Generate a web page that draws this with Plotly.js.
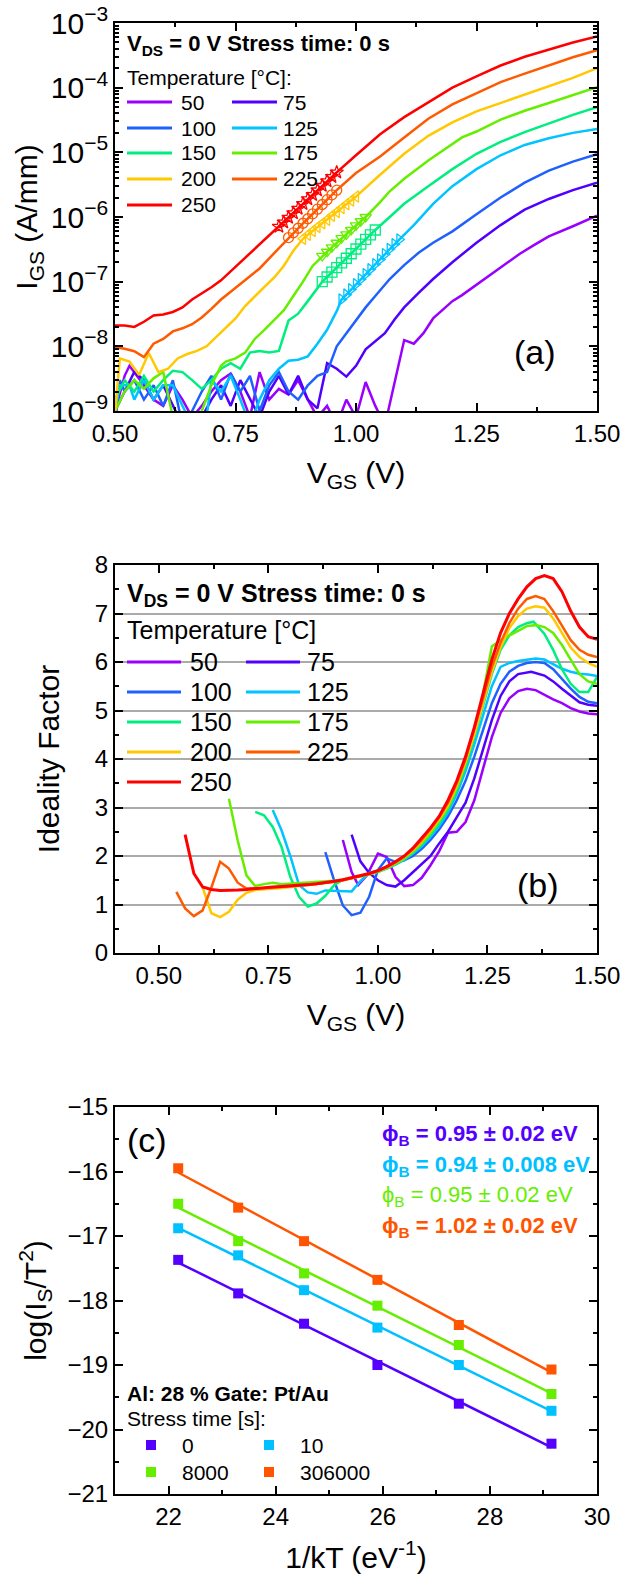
<!DOCTYPE html>
<html><head><meta charset="utf-8">
<script src="https://cdn.plot.ly/plotly-3.0.1.min.js"></script>
<style>html,body{margin:0;padding:0;background:#fff}#chart{width:638px;height:1583px}</style>
</head><body><div id="chart"></div>
<script>
// ---------- shared categories ----------
const temps = ['50','75','100','125','150','175','200','225','250'];
const tempColors = ['#9900FF','#5000FF','#1F60FF','#00C3FF','#00EE80','#66EE00','#FFC800','#FF5A00','#FF0000'];

// ---------- panel (a): I_GS vs V_GS ----------
const vA50 = [0.50,0.52,0.53,0.54,0.56,0.58,0.60,0.62,0.64,0.66,0.68,0.70,0.72,0.74,0.76,0.78,0.80,0.82,0.84,0.86,0.88,0.90,0.92,0.94,0.96,0.98,1.00,1.02,1.04,1.06,1.10,1.12,1.14,1.16,1.18,1.20,1.22,1.25,1.28,1.31,1.34,1.37,1.40,1.45,1.50];
const iA50 = [1.0e-9,3.5e-9,5.0e-9,4.0e-9,2.5e-9,1.5e-9,1.2e-9,2.5e-9,1.5e-9,8e-10,1.2e-9,2.0e-9,3.0e-9,3.8e-9,2.0e-9,8e-10,4.0e-9,1.5e-9,2.2e-9,1.8e-9,3.0e-9,1.5e-9,8e-10,1.2e-9,6e-10,1.5e-9,8e-10,2.8e-9,1.2e-9,6e-10,1.25e-8,1.1e-8,1.6e-8,2.7e-8,3.7e-8,5.0e-8,6.2e-8,9.0e-8,1.3e-7,1.9e-7,2.7e-7,3.7e-7,5.0e-7,7.2e-7,1.05e-6];

const vA75 = [0.50,0.52,0.54,0.56,0.58,0.60,0.62,0.64,0.68,0.70,0.72,0.74,0.76,0.78,0.80,0.82,0.84,0.86,0.88,0.90,0.92,0.94,0.96,0.98,1.00,1.02,1.04,1.06,1.08,1.10,1.13,1.16,1.20,1.25,1.30,1.35,1.40,1.45,1.50];
const iA75 = [1.0e-9,2.0e-9,4.0e-9,3.0e-9,1.5e-9,2.5e-9,1.2e-9,6e-10,8e-10,1.5e-9,2.5e-9,1.2e-9,3.0e-9,1.5e-9,8e-10,2.0e-9,3.5e-9,1.8e-9,3.5e-9,1.5e-9,1.1e-9,5.5e-9,4.5e-9,3.4e-9,5.0e-9,9.0e-9,1.2e-8,1.6e-8,2.6e-8,4.0e-8,6.7e-8,1.1e-7,2.0e-7,4.0e-7,7.5e-7,1.3e-6,1.9e-6,2.6e-6,3.4e-6];

const vA100 = [0.50,0.51,0.52,0.54,0.56,0.58,0.60,0.62,0.64,0.66,0.68,0.70,0.72,0.74,0.76,0.78,0.80,0.82,0.84,0.86,0.88,0.90,0.92,0.94,0.96,0.98,1.00,1.02,1.04,1.07,1.10,1.13,1.16,1.20,1.25,1.30,1.35,1.40,1.45,1.50];
const iA100 = [6e-10,3.0e-9,2.0e-9,3.0e-9,1.5e-9,2.5e-9,1.2e-9,3.0e-9,6e-10,1.0e-9,2.0e-9,3.5e-9,1.5e-9,3.8e-9,2.0e-9,3.5e-9,1.0e-9,2.5e-9,4.0e-9,2.0e-9,1.5e-9,2.5e-9,3.5e-9,4.0e-9,1.0e-8,1.6e-8,2.6e-8,4.0e-8,6.0e-8,1.1e-7,1.8e-7,2.8e-7,4.0e-7,6.0e-7,1.1e-6,2.0e-6,3.4e-6,5.2e-6,7.2e-6,9.4e-6];

const vA125 = [0.50,0.51,0.53,0.54,0.56,0.58,0.60,0.62,0.64,0.66,0.69,0.70,0.72,0.74,0.76,0.78,0.80,0.82,0.84,0.86,0.88,0.90,0.92,0.94,0.96,0.97,0.98,0.99,1.00,1.01,1.02,1.03,1.04,1.05,1.06,1.07,1.08,1.09,1.12,1.16,1.20,1.25,1.30,1.35,1.40,1.45,1.50];
const iA125 = [1.0e-9,2.5e-9,2.5e-9,1.5e-9,3.0e-9,1.5e-9,2.5e-9,2.5e-9,1.2e-9,6e-10,8e-10,3.0e-9,2.0e-9,3.5e-9,1.5e-9,6e-10,1.5e-9,3.0e-9,4.5e-9,6.0e-9,6.2e-9,7.0e-9,1.1e-8,1.8e-8,3.5e-8,5.3e-8,6.3e-8,7.6e-8,9.1e-8,1.09e-7,1.3e-7,1.55e-7,1.86e-7,2.2e-7,2.65e-7,3.2e-7,3.8e-7,4.5e-7,7.5e-7,1.6e-6,3.0e-6,5.5e-6,9.0e-6,1.3e-5,1.65e-5,2.0e-5,2.3e-5];

const vA150 = [0.50,0.52,0.54,0.56,0.58,0.60,0.62,0.64,0.66,0.68,0.70,0.72,0.74,0.76,0.78,0.80,0.82,0.84,0.86,0.88,0.90,0.92,0.93,0.94,0.95,0.96,0.97,0.98,0.99,1.00,1.01,1.02,1.03,1.04,1.07,1.10,1.15,1.20,1.25,1.30,1.35,1.40,1.45,1.50];
const iA150 = [1.5e-9,3.0e-9,2.0e-9,3.5e-9,2.0e-9,3.0e-9,4.2e-9,4.0e-9,3.0e-9,2.2e-9,3.0e-9,4.5e-9,5.5e-9,4.5e-9,8.0e-9,8.5e-9,8.0e-9,8.5e-9,2.5e-8,3.2e-8,5.0e-8,8.0e-8,1.0e-7,1.18e-7,1.4e-7,1.65e-7,1.95e-7,2.3e-7,2.7e-7,3.2e-7,3.8e-7,4.5e-7,5.3e-7,6.3e-7,1.0e-6,1.6e-6,3.0e-6,5.5e-6,9.5e-6,1.45e-5,2.05e-5,2.8e-5,3.8e-5,5.0e-5];

const vA175 = [0.50,0.52,0.54,0.56,0.58,0.60,0.62,0.64,0.66,0.68,0.70,0.72,0.73,0.75,0.77,0.79,0.81,0.83,0.85,0.87,0.89,0.91,0.93,0.94,0.95,0.96,0.97,0.98,0.99,1.00,1.01,1.02,1.05,1.07,1.10,1.15,1.22,1.25,1.30,1.35,1.40,1.45,1.50];
const iA175 = [1.0e-9,2.0e-9,3.0e-9,2.2e-9,3.2e-9,4.0e-9,8e-10,5e-10,5e-10,1.0e-9,2.5e-9,5.0e-9,5.8e-9,6.5e-9,8.0e-9,1.3e-8,1.8e-8,2.5e-8,3.6e-8,6.0e-8,1.0e-7,1.75e-7,2.5e-7,2.9e-7,3.4e-7,4.0e-7,4.7e-7,5.4e-7,6.3e-7,7.4e-7,8.6e-7,1.0e-6,1.7e-6,2.5e-6,3.9e-6,7.5e-6,1.7e-5,2.1e-5,3.2e-5,4.4e-5,5.8e-5,7.8e-5,1.02e-4];

const vA200 = [0.50,0.51,0.53,0.55,0.57,0.59,0.61,0.63,0.65,0.67,0.69,0.71,0.73,0.75,0.77,0.79,0.81,0.83,0.85,0.87,0.89,0.90,0.91,0.92,0.93,0.94,0.95,0.96,0.97,0.98,0.99,1.00,1.05,1.10,1.15,1.20,1.25,1.30,1.35,1.40,1.45,1.50];
const iA200 = [9e-10,6.5e-9,5.8e-9,3.6e-9,7.9e-9,4.0e-9,4.5e-9,6.5e-9,7.6e-9,8.5e-9,1.0e-8,1.4e-8,2.0e-8,2.7e-8,4.2e-8,5.8e-8,8.3e-8,1.15e-7,1.75e-7,3.0e-7,4.6e-7,5.3e-7,6.1e-7,7.0e-7,8.0e-7,9.1e-7,1.05e-6,1.2e-6,1.38e-6,1.58e-6,1.8e-6,2.07e-6,4.5e-6,9.5e-6,1.8e-5,2.9e-5,4.3e-5,5.8e-5,7.7e-5,1.03e-4,1.42e-4,2.0e-4];

const vA225 = [0.50,0.52,0.54,0.56,0.58,0.60,0.62,0.64,0.66,0.68,0.70,0.72,0.74,0.76,0.78,0.80,0.82,0.84,0.86,0.87,0.88,0.89,0.90,0.91,0.92,0.93,0.94,0.95,0.96,1.00,1.05,1.10,1.15,1.20,1.25,1.30,1.35,1.40,1.45,1.50];
const iA225 = [9.7e-9,9.2e-9,8.4e-9,6.8e-9,1.1e-8,1.3e-8,1.7e-8,1.9e-8,2.2e-8,2.8e-8,3.8e-8,5.3e-8,7.0e-8,9.2e-8,1.25e-7,1.6e-7,2.3e-7,3.3e-7,4.8e-7,5.7e-7,6.7e-7,8.0e-7,9.4e-7,1.12e-6,1.32e-6,1.56e-6,1.85e-6,2.2e-6,2.6e-6,4.8e-6,8.6e-6,1.7e-5,3.3e-5,5.5e-5,8.3e-5,1.22e-4,1.65e-4,2.2e-4,2.95e-4,3.8e-4];

const vA250 = [0.50,0.52,0.54,0.56,0.58,0.60,0.62,0.64,0.66,0.68,0.70,0.72,0.74,0.76,0.78,0.80,0.82,0.83,0.84,0.85,0.86,0.87,0.88,0.89,0.90,0.91,0.92,0.93,0.94,0.95,0.96,1.00,1.05,1.10,1.15,1.20,1.25,1.30,1.35,1.40,1.45,1.50];
const iA250 = [2.1e-8,2.1e-8,2.0e-8,2.4e-8,3.0e-8,3.1e-8,3.4e-8,4.0e-8,5.3e-8,6.5e-8,8.2e-8,1.05e-7,1.45e-7,2.0e-7,2.7e-7,3.7e-7,5.1e-7,6.0e-7,7.1e-7,8.3e-7,9.8e-7,1.15e-6,1.35e-6,1.6e-6,1.9e-6,2.2e-6,2.6e-6,3.05e-6,3.6e-6,4.2e-6,4.9e-6,9.0e-6,1.9e-5,3.5e-5,6.0e-5,1.0e-4,1.5e-4,2.2e-4,3.0e-4,3.9e-4,5.0e-4,6.2e-4];

// fit windows (V) marked with symbols, for 125..250 °C
const fitTemps = ['125','150','175','200','225','250'];
const fitLo = [0.97,0.93,0.93,0.89,0.86,0.84];
const fitHi = [1.09,1.04,1.02,1.00,0.96,0.96];
const fitSymbols = ['triangle-right-open','square-open','triangle-down-open','triangle-left-open','circle-open','star-open'];

// ---------- panel (b): ideality factor ----------
const vB50 = [0.92,0.94,0.955,0.975,1.00,1.02,1.04,1.06,1.08,1.10,1.12,1.14,1.16,1.18,1.20,1.22,1.24,1.26,1.28,1.30,1.32,1.34,1.36,1.38,1.40,1.42,1.44,1.46,1.48,1.50];
const nB50 = [2.33,1.67,1.40,1.60,2.05,1.98,1.57,1.38,1.40,1.55,1.81,2.10,2.48,2.50,2.70,3.15,3.80,4.45,4.95,5.25,5.40,5.45,5.42,5.32,5.23,5.15,5.05,4.98,4.94,4.92];
const vB75 = [0.94,0.96,0.98,1.00,1.02,1.04,1.06,1.08,1.10,1.12,1.14,1.16,1.18,1.20,1.22,1.24,1.26,1.28,1.30,1.32,1.35,1.38,1.40,1.42,1.44,1.46,1.48,1.50];
const nB75 = [2.44,1.89,1.65,1.50,1.40,1.37,1.50,1.67,1.85,2.00,2.26,2.50,2.80,3.10,3.60,4.20,4.80,5.30,5.60,5.75,5.80,5.72,5.60,5.45,5.30,5.17,5.12,5.10];
const vB100 = [0.88,0.90,0.92,0.94,0.96,0.98,1.00,1.02,1.04,1.06,1.08,1.10,1.12,1.14,1.16,1.18,1.20,1.22,1.24,1.26,1.28,1.30,1.32,1.34,1.36,1.38,1.40,1.42,1.44,1.46,1.48,1.50];
const nB100 = [2.08,1.50,0.98,0.78,0.83,1.16,1.71,1.95,1.88,1.91,2.00,2.15,2.33,2.55,2.82,3.15,3.55,4.05,4.60,5.15,5.55,5.80,5.92,5.98,6.00,5.98,5.85,5.65,5.45,5.28,5.18,5.15];
const vB125 = [0.76,0.78,0.80,0.82,0.84,0.86,0.88,0.90,0.92,0.94,0.96,0.98,1.00,1.02,1.04,1.06,1.08,1.10,1.12,1.14,1.16,1.18,1.20,1.22,1.24,1.26,1.28,1.30,1.32,1.34,1.36,1.38,1.40,1.42,1.44,1.46,1.48,1.50];
const nB125 = [2.95,2.53,2.00,1.40,1.25,1.22,1.29,1.28,1.27,1.27,1.48,1.65,1.70,1.74,1.82,1.92,2.05,2.20,2.40,2.62,2.90,3.28,3.75,4.30,4.90,5.50,5.90,5.98,6.02,6.05,6.07,6.05,5.95,5.86,5.80,5.76,5.74,5.71];
const vB150 = [0.72,0.74,0.76,0.78,0.80,0.82,0.84,0.86,0.88,0.90,0.92,0.94,0.96,0.98,1.00,1.02,1.04,1.06,1.08,1.10,1.12,1.14,1.16,1.18,1.20,1.22,1.24,1.26,1.28,1.30,1.32,1.34,1.355,1.38,1.40,1.42,1.44,1.46,1.48,1.50];
const nB150 = [2.91,2.84,2.60,2.19,1.57,1.16,0.96,1.02,1.18,1.40,1.51,1.54,1.58,1.62,1.67,1.74,1.83,1.94,2.07,2.24,2.44,2.68,2.96,3.35,3.85,4.45,5.10,5.75,6.25,6.55,6.72,6.80,6.83,6.58,6.25,5.85,5.55,5.38,5.38,5.69];
const vB175 = [0.66,0.68,0.70,0.72,0.74,0.76,0.78,0.80,0.82,0.84,0.86,0.88,0.90,0.92,0.94,0.96,0.98,1.00,1.02,1.04,1.06,1.08,1.10,1.12,1.14,1.16,1.18,1.20,1.22,1.24,1.26,1.28,1.30,1.32,1.34,1.36,1.38,1.40,1.42,1.44,1.46,1.48,1.50];
const nB175 = [3.18,2.32,1.60,1.38,1.42,1.45,1.42,1.43,1.44,1.45,1.46,1.47,1.49,1.51,1.54,1.58,1.62,1.68,1.75,1.84,1.95,2.09,2.26,2.47,2.72,3.00,3.40,3.90,4.55,5.35,6.32,6.45,6.55,6.65,6.74,6.76,6.72,6.60,6.35,6.05,5.75,5.60,5.55];
const vB200 = [0.60,0.62,0.64,0.66,0.68,0.70,0.72,0.74,0.76,0.78,0.80,0.82,0.84,0.86,0.88,0.90,0.92,0.94,0.96,0.98,1.00,1.02,1.04,1.06,1.08,1.10,1.12,1.14,1.16,1.18,1.20,1.22,1.24,1.26,1.28,1.30,1.32,1.34,1.36,1.38,1.40,1.42,1.44,1.46,1.48,1.50];
const nB200 = [1.35,0.82,0.74,0.85,1.10,1.24,1.30,1.31,1.32,1.34,1.36,1.38,1.40,1.42,1.44,1.47,1.50,1.54,1.58,1.63,1.69,1.76,1.86,1.98,2.12,2.30,2.52,2.76,3.05,3.45,3.95,4.50,5.15,5.80,6.30,6.70,6.95,7.10,7.15,7.12,6.90,6.60,6.30,6.10,5.98,5.90];
const vB225 = [0.54,0.56,0.58,0.60,0.62,0.64,0.66,0.68,0.70,0.72,0.74,0.76,0.78,0.80,0.82,0.84,0.86,0.88,0.90,0.92,0.94,0.96,0.98,1.00,1.02,1.04,1.06,1.08,1.10,1.12,1.14,1.16,1.18,1.20,1.22,1.24,1.26,1.28,1.30,1.32,1.34,1.36,1.38,1.40,1.42,1.44,1.46,1.48,1.50];
const nB225 = [1.26,0.92,0.76,0.88,1.35,1.88,1.74,1.45,1.33,1.33,1.34,1.35,1.36,1.37,1.38,1.40,1.42,1.44,1.47,1.50,1.54,1.58,1.63,1.69,1.77,1.87,1.99,2.14,2.33,2.55,2.80,3.10,3.50,4.00,4.60,5.25,5.90,6.40,6.80,7.10,7.30,7.36,7.30,7.05,6.75,6.45,6.25,6.15,6.10];
const vB250 = [0.56,0.58,0.60,0.62,0.64,0.66,0.68,0.70,0.72,0.74,0.76,0.78,0.80,0.82,0.84,0.86,0.88,0.90,0.92,0.94,0.96,0.98,1.00,1.02,1.04,1.06,1.08,1.10,1.12,1.14,1.16,1.18,1.20,1.22,1.24,1.26,1.28,1.30,1.32,1.34,1.36,1.38,1.40,1.42,1.44,1.46,1.48,1.50];
const nB250 = [2.44,1.64,1.36,1.31,1.29,1.29,1.30,1.31,1.33,1.35,1.36,1.37,1.38,1.39,1.41,1.43,1.45,1.48,1.51,1.55,1.59,1.64,1.70,1.78,1.88,2.00,2.16,2.36,2.58,2.82,3.15,3.55,4.05,4.65,5.35,6.05,6.60,7.00,7.30,7.55,7.72,7.78,7.72,7.45,7.05,6.72,6.52,6.47];

// ---------- panel (c): Richardson plot ----------
const invkT = [22.18,23.30,24.53,25.90,27.42,29.15];
const stressTimes = ['0','10','8000','306000'];
const stressColors = ['#5500FF','#00C0FF','#66EE00','#FF5500'];
const logS0 = [-17.37,-17.89,-18.36,-19.00,-19.60,-20.22];
const logS10 = [-16.88,-17.30,-17.84,-18.42,-19.00,-19.71];
const logS8000 = [-16.50,-17.08,-17.58,-18.08,-18.69,-19.45];
const logS306000 = [-15.95,-16.56,-17.08,-17.68,-18.38,-19.07];
const barrierTexts = ['0.95 ± 0.02 eV','0.94 ± 0.008 eV','0.95 ± 0.02 eV','1.02 ± 0.02 eV'];
const barrierBold = [true,true,false,true];

// ---------- helpers ----------
const W = 638, H = 1583;
const FONT = 'Liberation Sans, Arial, Helvetica, sans-serif';
const fx = p => p / W;
const fy = p => 1 - p / H;
const seriesA = [[vA50,iA50],[vA75,iA75],[vA100,iA100],[vA125,iA125],[vA150,iA150],[vA175,iA175],[vA200,iA200],[vA225,iA225],[vA250,iA250]];
const seriesB = [[vB50,nB50],[vB75,nB75],[vB100,nB100],[vB125,nB125],[vB150,nB150],[vB175,nB175],[vB200,nB200],[vB225,nB225],[vB250,nB250]];
const seriesC = [logS0,logS10,logS8000,logS306000];

const traces = [];
seriesA.forEach((s, k) => {
  traces.push({x: s[0], y: s[1], xaxis: 'x', yaxis: 'y', mode: 'lines', name: temps[k] + ' °C',
    line: {color: tempColors[k], width: 2.5}, showlegend: false, hoverinfo: 'skip'});
});
fitTemps.forEach((t, j) => {
  const k = temps.indexOf(t);
  const xs = [], ys = [];
  seriesA[k][0].forEach((v, i) => { if (v >= fitLo[j] - 1e-9 && v <= fitHi[j] + 1e-9) { xs.push(v); ys.push(seriesA[k][1][i]); } });
  traces.push({x: xs, y: ys, xaxis: 'x', yaxis: 'y', mode: 'markers', showlegend: false, hoverinfo: 'skip',
    marker: {symbol: fitSymbols[j], size: 10, color: tempColors[k], line: {color: tempColors[k], width: 1.3}}});
});
seriesB.forEach((s, k) => {
  traces.push({x: s[0], y: s[1], xaxis: 'x2', yaxis: 'y2', mode: 'lines', name: temps[k] + ' °C',
    line: {color: tempColors[k], width: k === 8 ? 3 : 2.5}, showlegend: false, hoverinfo: 'skip'});
});
seriesC.forEach((ys, k) => {
  // least-squares line through the measured points
  const n = invkT.length;
  const mx = invkT.reduce((a, b) => a + b, 0) / n;
  const my = ys.reduce((a, b) => a + b, 0) / n;
  let sxy = 0, sxx = 0;
  invkT.forEach((x, i) => { sxy += (x - mx) * (ys[i] - my); sxx += (x - mx) * (x - mx); });
  const b = sxy / sxx, a = my - b * mx;
  const x0 = invkT[0], x1 = invkT[n - 1];
  traces.push({x: [x0, x1], y: [a + b * x0, a + b * x1], xaxis: 'x3', yaxis: 'y3', mode: 'lines',
    line: {color: stressColors[k], width: 2.5}, showlegend: false, hoverinfo: 'skip'});
  traces.push({x: invkT, y: ys, xaxis: 'x3', yaxis: 'y3', mode: 'markers', name: stressTimes[k] + ' s',
    marker: {symbol: 'square', size: 10, color: stressColors[k]}, showlegend: false, hoverinfo: 'skip'});
});

function ax(extra) {
  const base = {
    showline: true, linecolor: '#000', linewidth: 2, mirror: 'ticks',
    ticks: 'inside', ticklen: 8, tickwidth: 2, tickcolor: '#000',
    tickfont: {family: FONT, size: 24, color: '#000'},
    showgrid: false, zeroline: false, fixedrange: true
  };
  const minor = Object.assign({ticks: 'inside', ticklen: 4, tickwidth: 1.5, tickcolor: '#000', showgrid: false}, extra.minor || {});
  const out = Object.assign(base, extra);
  out.minor = minor;
  return out;
}
const titleFont = {family: FONT, size: 30, color: '#000'};
const xdom = [fx(115), fx(597)];

const layout = {
  width: W, height: H, margin: {l: 0, r: 0, t: 0, b: 0},
  paper_bgcolor: '#fff', plot_bgcolor: '#fff', showlegend: false,
  font: {family: FONT, size: 21, color: '#000'},
  xaxis: ax({domain: xdom, anchor: 'y', range: [0.5, 1.5], tick0: 0.5, dtick: 0.25, tickformat: '.2f',
    minor: {dtick: 0.125}, title: {text: 'V<sub>GS</sub> (V)', font: titleFont, standoff: 16}}),
  yaxis: ax({domain: [fy(411), fy(23)], anchor: 'x', type: 'log', range: [-9, -3], dtick: 1,
    exponentformat: 'power', showexponent: 'all', minor: {dtick: 'D1'},
    title: {text: 'I<sub>GS</sub> (A/mm)', font: titleFont, standoff: 4}}),
  xaxis2: ax({domain: xdom, anchor: 'y2', range: [0.4, 1.5], tick0: 0.5, dtick: 0.25, tickformat: '.2f',
    minor: {dtick: 0.125}, title: {text: 'V<sub>GS</sub> (V)', font: titleFont, standoff: 16}}),
  yaxis2: ax({domain: [fy(953), fy(565)], anchor: 'x2', range: [0, 8], dtick: 1,
    showgrid: true, gridcolor: '#AAAAAA', gridwidth: 1.5, minor: {dtick: 0.5},
    title: {text: 'Ideality Factor', font: titleFont, standoff: 26}}),
  xaxis3: ax({domain: xdom, anchor: 'y3', range: [21, 30], tick0: 22, dtick: 2,
    minor: {dtick: 1}, title: {text: '1/kT (eV<sup>-1</sup>)', font: titleFont, standoff: 18}}),
  yaxis3: ax({domain: [fy(1494), fy(1107)], anchor: 'x3', range: [-21, -15], dtick: 1,
    minor: {dtick: 0.5}, title: {text: 'log(I<sub>S</sub>/T<sup>2</sup>)', font: titleFont, standoff: 12}}),
  annotations: [], shapes: []
};

function txt(x, y, text, size, color, xanchor) {
  layout.annotations.push({xref: 'paper', yref: 'paper', x: fx(x), y: fy(y), text: text, showarrow: false,
    xanchor: xanchor || 'left', yanchor: 'middle', font: {family: FONT, size: size, color: color || '#000'}});
}
function seg(x0, x1, y, color, w) {
  layout.shapes.push({type: 'line', xref: 'paper', yref: 'paper', x0: fx(x0), x1: fx(x1), y0: fy(y), y1: fy(y),
    line: {color: color, width: w || 3}});
}
function sq(x, y, color, s) {
  layout.shapes.push({type: 'rect', xref: 'paper', yref: 'paper', x0: fx(x - s / 2), x1: fx(x + s / 2),
    y0: fy(y + s / 2), y1: fy(y - s / 2), line: {width: 0}, fillcolor: color});
}

// legend (a)
txt(125, 45, '<b>V<sub>DS</sub> = 0 V Stress time: 0 s</b>', 22);
txt(125, 77, 'Temperature [°C]:', 21);
const rowsA = [102, 128, 153, 179, 205];
temps.forEach((t, k) => {
  const r = Math.floor(k / 2), c = k % 2;
  const lx = c === 0 ? 127 : 232, tx = c === 0 ? 179 : 281;
  seg(lx, lx + 45, rowsA[r], tempColors[k], 3);
  txt(tx, rowsA[r], t, 21);
});
txt(535, 352, '(a)', 34, '#000', 'center');

// legend (b)
txt(125, 595, '<b>V<sub>DS</sub> = 0 V Stress time: 0 s</b>', 25);
txt(125, 630, 'Temperature [°C]', 25);
const rowsB = [662, 692, 722, 752, 782];
temps.forEach((t, k) => {
  const r = Math.floor(k / 2), c = k % 2;
  const lx = c === 0 ? 127 : 246, tx = c === 0 ? 188 : 305;
  seg(lx, lx + 54, rowsB[r], tempColors[k], 3);
  txt(tx, rowsB[r], t, 25);
});
txt(538, 885, '(b)', 34, '#000', 'center');

// panel (c) texts and legend
txt(147, 1140, '(c)', 34, '#000', 'center');
barrierTexts.forEach((s, k) => {
  const t = 'ϕ<sub>B</sub> = ' + s;
  txt(380, 1135 + k * 30.5, barrierBold[k] ? '<b>' + t + '</b>' : t, 22, stressColors[k]);
});
txt(125, 1393, '<b>Al: 28 % Gate: Pt/Au</b>', 21);
txt(125, 1418, 'Stress time [s]:', 21);
stressTimes.forEach((s, k) => {
  const r = Math.floor(k / 2), c = k % 2;
  const y = r === 0 ? 1445 : 1472;
  sq(c === 0 ? 151 : 269, y, stressColors[k], 10);
  txt(c === 0 ? 180 : 298, y, s, 21);
});

Plotly.newPlot('chart', traces, layout, {displayModeBar: false});
</script>
</body></html>
